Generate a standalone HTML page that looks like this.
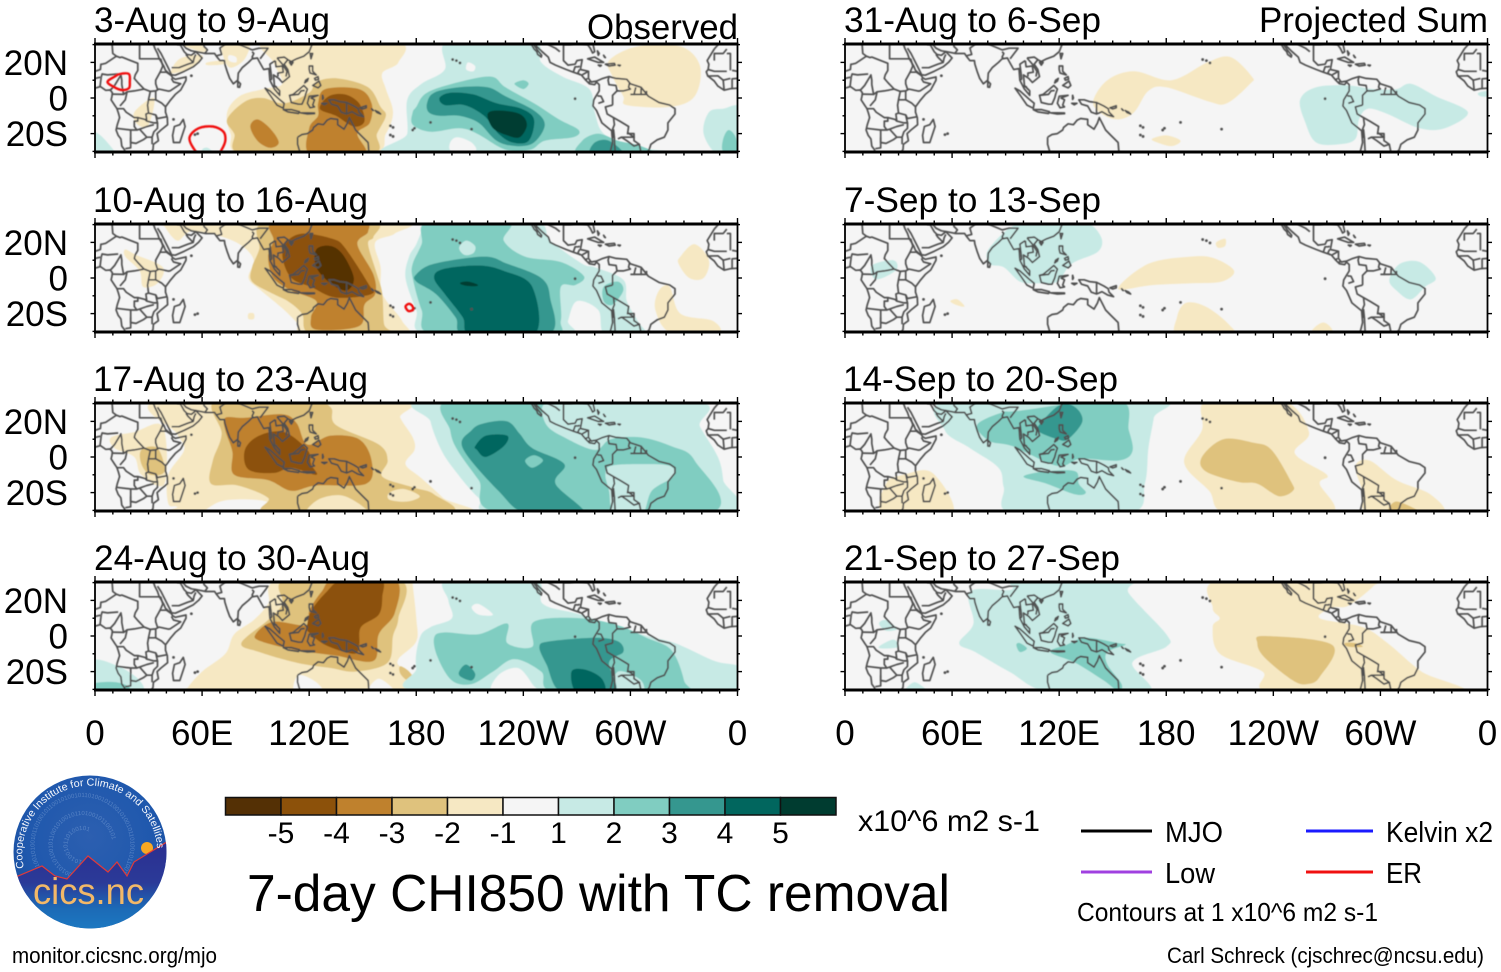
<!DOCTYPE html>
<html lang="en">
<head>
<meta charset="utf-8">
<title>7-day CHI850 with TC removal</title>
<style>
html,body{margin:0;padding:0;background:#fff;}
svg{display:block;}
text{font-family:"Liberation Sans",sans-serif;fill:#000;}
</style>
</head>
<body>
<svg id="chart" xmlns="http://www.w3.org/2000/svg" width="1501" height="972" viewBox="0 0 1501 972">
<defs>
<radialGradient id="logo-sky" cx="50%" cy="40%" r="60%">
<stop offset="0" stop-color="#2c5fb0"/><stop offset="0.7" stop-color="#1f58ad"/><stop offset="1" stop-color="#1a4f9e"/>
</radialGradient>
<linearGradient id="logo-ground" x1="0" y1="0" x2="0" y2="1">
<stop offset="0" stop-color="#2b2e90"/><stop offset="0.45" stop-color="#2b3a98"/><stop offset="0.72" stop-color="#1c6ab6"/><stop offset="1" stop-color="#1c7cc4"/>
</linearGradient>
<filter id="soften" x="0" y="0" width="100%" height="100%"><feGaussianBlur stdDeviation="0.4"/></filter>
<clipPath id="logo-clip"><circle cx="90" cy="852" r="76.5"/></clipPath>
<path id="logo-arc" d="M 24 868 A 67.5 67.5 0 1 1 157 860"/>
<path id="logo-ring-a" d="M 82 893 A 48 48 0 1 1 83 893"/>
<path id="logo-ring-b" d="M 82 875 A 30 30 0 1 1 83 875"/>
<path id="logo-ring-c" d="M 82 860 A 15 15 0 1 1 83 860"/>
</defs>

<g id="panel-0">
<text x="94" y="32" font-size="35" textLength="236" lengthAdjust="spacingAndGlyphs">3-Aug to 9-Aug</text>
<text x="587" y="39" font-size="35" textLength="151" lengthAdjust="spacingAndGlyphs">Observed</text>
</g>
<g id="panel-1">
<text x="93" y="212" font-size="35" textLength="275" lengthAdjust="spacingAndGlyphs">10-Aug to 16-Aug</text>
</g>
<g id="panel-2">
<text x="93" y="391" font-size="35" textLength="275" lengthAdjust="spacingAndGlyphs">17-Aug to 23-Aug</text>
</g>
<g id="panel-3">
<text x="94" y="570" font-size="35" textLength="276" lengthAdjust="spacingAndGlyphs">24-Aug to 30-Aug</text>
</g>
<g id="panel-4">
<text x="844" y="32" font-size="35" textLength="257" lengthAdjust="spacingAndGlyphs">31-Aug to 6-Sep</text>
<text x="1259" y="32" font-size="35" textLength="229" lengthAdjust="spacingAndGlyphs">Projected Sum</text>
</g>
<g id="panel-5">
<text x="844" y="212" font-size="35" textLength="257" lengthAdjust="spacingAndGlyphs">7-Sep to 13-Sep</text>
</g>
<g id="panel-6">
<text x="843" y="391" font-size="35" textLength="275" lengthAdjust="spacingAndGlyphs">14-Sep to 20-Sep</text>
</g>
<g id="panel-7">
<text x="844" y="570" font-size="35" textLength="276" lengthAdjust="spacingAndGlyphs">21-Sep to 27-Sep</text>
</g>

<g id="colorbar"></g>
<text x="858" y="831" font-size="30" textLength="182" lengthAdjust="spacingAndGlyphs">x10^6 m2 s-1</text>
<text x="247" y="911" font-size="52" textLength="703" lengthAdjust="spacingAndGlyphs">7-day CHI850 with TC removal</text>

<g>
<line x1="1081" y1="831" x2="1152" y2="831" stroke="#000" stroke-width="3"/>
<text x="1165" y="842" font-size="29" textLength="58" lengthAdjust="spacingAndGlyphs">MJO</text>
<line x1="1306" y1="831" x2="1373" y2="831" stroke="#1a1aff" stroke-width="3"/>
<text x="1386" y="842" font-size="29" textLength="107" lengthAdjust="spacingAndGlyphs">Kelvin x2</text>
<line x1="1081" y1="872" x2="1152" y2="872" stroke="#a040e0" stroke-width="3"/>
<text x="1165" y="883" font-size="29" textLength="50" lengthAdjust="spacingAndGlyphs">Low</text>
<line x1="1306" y1="872" x2="1373" y2="872" stroke="#f01010" stroke-width="3"/>
<text x="1386" y="883" font-size="29" textLength="36" lengthAdjust="spacingAndGlyphs">ER</text>
<text x="1077" y="921" font-size="26" textLength="301" lengthAdjust="spacingAndGlyphs">Contours at 1 x10^6 m2 s-1</text>
</g>
<text x="1167" y="963" font-size="22" textLength="317" lengthAdjust="spacingAndGlyphs">Carl Schreck (cjschrec@ncsu.edu)</text>
<text x="12" y="963" font-size="22" textLength="205" lengthAdjust="spacingAndGlyphs">monitor.cicsnc.org/mjo</text>

<g>
<circle cx="90" cy="852" r="76.5" fill="url(#logo-sky)"/>
<g clip-path="url(#logo-clip)">
<g font-size="6" style="font-family:'Liberation Mono',monospace">
<text style="fill:#7fa4d8" opacity="0.55"><textPath href="#logo-ring-a">1010010110100101100101001011010010110010100101101001011001010010110100101100101001</textPath></text>
<text style="fill:#7fa4d8" opacity="0.55"><textPath href="#logo-ring-b">10100101101001011001010010110100101100101</textPath></text>
<text style="fill:#7fa4d8" opacity="0.55"><textPath href="#logo-ring-c">1010010110100101</textPath></text>
</g>
<circle cx="147" cy="848" r="6" fill="#f7a823"/>
<path d="M 10 877 L 18 876 L 42 866 L 55 876 L 67 879 L 88 856 L 108 872 L 117 862 L 127 876 L 134 862 L 170 840 L 170 935 L 10 935 Z" fill="url(#logo-ground)"/>
<path d="M 10 877 L 18 876 L 42 866 L 55 876 L 67 879 L 88 856 L 108 872 L 117 862 L 127 876 L 134 862 L 170 840" fill="none" stroke="#e03a3a" stroke-width="1.2"/>
</g>
<text font-size="10.5" style="fill:#f4f6fb"><textPath href="#logo-arc" textLength="222" lengthAdjust="spacingAndGlyphs">Cooperative Institute for Climate and Satellites</textPath></text>
<text x="33" y="904" font-size="37" textLength="111" lengthAdjust="spacingAndGlyphs" style="fill:#f2b868">cics.nc</text>
</g>

<script>
/* Colour bins for the eleven shaded intervals, keyed from -5 to 5 */
const levelBins = [-5,-4,-3,-2,-1,0,1,2,3,4,5];
const levelColors = ['#543005','#8c510a','#bf812d','#dfc27d','#f6e8c3','#f5f5f5','#c7eae5','#80cdc1','#35978f','#01665e','#003c30'];
const colorbarLabels = ['-5','-4','-3','-2','-1','1','2','3','4','5'];
const lonTicks = [0,60,120,180,240,300,360];
const lonTickLabels = ['0','60E','120E','180','120W','60W','0'];
const latTicks = [20,0,-20];
const latTickLabels = ['20N','0','20S'];

/* Shaded regions: [bin, [lon,lat, lon,lat, ...]] in degrees */
const week3Aug = [
[-1,[97,32,100,20,105,8,94,5,81,1,74,-8,76,-20,84,-32,153,-32,163,-20,167,-8,163,5,161,14,170,20,168,32]],
[-1,[72,32,86,32,84,22,76,17,72,23]],
[0,[75,24,79,23,79,20,75,21]],
[-1,[43,14,47.5,22,60,24,56,18]],
[-1,[63,20,72,21,72,19,63,18.5]],
[-1,[49,30,60,26,62,28,55,32]],
[-1,[22,-8,33,0,30,-15,24,-15]],
[-1,[288,21,304,29,328,29,339,18,336,1,322,-5,298,-4,296,1,290,12]],
[-2,[74,-12,84,-2,94,0,106,-3,120,3,124,9,136,11,153,6,160,-5,163,-10,158,-20,153,-32,84,-32,78,-20]],
[-3,[87,-16,91,-12,98,-17,103,-25,98,-28,91,-24]],
[-3,[125,-3,129,5,148,5,155,-3,154,-14,147,-20,151,-32,121,-32,120,-17,125,-10]],
[-4,[126,-6,131,1,140,2,148,-3,151,-13,145,-16,135,-10]],
[1,[198,32,245,32,250,20,262,12,277,5,280,-8,285,-20,300,-27,322,-32,170,-32,175,-20,175,-1,183,8,196,16]],
[1,[344,-8,352,-6,362,-6,362,-32,349,-32,341,-20]],
[1,[-2,-20,3,-21,11,-30,12,-33,-2,-33]],
[1,[60,-29,63,-28,66,-31,60,-33]],
[0,[209,20,213,18,212,15,208,16]],
[0,[199,-25,203,-22,211,-25,213,-30,200,-30]],
[2,[180,-5,186,3,204,9,222,12,230,6,246,-3,260,-12,271,-18,268,-22,252,-24,244,-29,230,-29,214,-20,204,-17,188,-19,178,-15,178,-8]],
[2,[235,8,240,10,243,8,240,5]],
[2,[272,-32,273,-24,282,-20,293,-24,306,-27,312,-32]],
[2,[352,-23,355,-18,359,-22,360,-30,352,-30]],
[3,[186,-3,190,3,204,6,220,6,230,1,246,-7,252,-15,246,-25,236,-27,225,-24,215,-14,204,-10,193,-10,187,-8]],
[3,[278,-32,280,-25,288,-24,296,-32]],
[4,[193,0,199,3,212,2,225,-3,239,-6,246,-12,243,-24,234,-25,226,-20,218,-10,207,-4,196,-4]],
[5,[220,-9,226,-7,238,-9,242,-15,238,-22,231,-21,223,-17]]
];
const week10Aug = [
[-1,[39,32,39,29,46,21,53,26,65,25,81,19,89,10,86,0,93,-7,105,-17,113,-25,119,-32,172,-32,172,-24,161,-9,160,6,157,20,168,25,168,32]],
[-1,[17,16,23,13,38,6,35,-3,27,-5,25,4,17,12]],
[-1,[86,-20,89,-20,89,-23,86,-23]],
[-1,[328,12,336,19,344,10,341,0,333,0,327,8]],
[-1,[316,-7,322,-5,328,-20,346,-24,349,-31,323,-31,314,-18]],
[-2,[96,32,92,16,88,6,88,-2,100,-9,108,-13,116,-20,122,-32,165,-32,162,-26,161,-9,158,2,153,19,156,23,155,32]],
[-3,[101,32,100,21,97,12,100,0,110,-7,124,-13,121,-22,124,-29,148,-27,151,-15,157,-9,156,2,147,19,153,26,148,32]],
[-4,[108,21,117,25,133,22,140,17,153,-3,155,-9,135,-11,121,-5,110,0,105,12]],
[-5,[124,16,132,18,139,13,145,0,141,-7,132,-3,124,6]],
[1,[184,32,245,32,255,21,273,8,280,6,296,-1,298,-13,304,-24,308,-32,286,-32,282,-18,270,-13,265,-24,263,-32,187,-32,180,-18,174,0,176,12,180,19,184,29]],
[2,[231,32,229,21,241,12,261,9,274,1,269,-4,261,-5,261,-24,255,-32,190,-32,183,-18,178,0,178,8,183,19,187,32]],
[2,[285,-5,293,-2,296,-7,290,-15,285,-13]],
[1,[204,17,208,21,213,18,212,14,207,13]],
[3,[180,2,190,8,218,12,231,8,250,0,255,-11,254,-32,208,-32,202,-22,191,-9,180,-2]],
[4,[190,0,195,5,215,7,229,4,245,-5,246,-32,211,-32,206,-22,196,-9]],
[5,[205,-2.5,209,-2,214,-3.5,214,-4.5,209,-4.5,205,-3.5]]
];
const week17Aug = [
[-1,[37,32,46,13,50,4,41,-10,41,-26,46,-28,54,-32,203,-32,195,-23,183,-12,174,-4,179,4,178,11,171,22,168,32]],
[-1,[9,11,22,14,38,17,39,-15,26,-10,22,0,11,5]],
[0,[66,-27,76,-24,96,-25,98,-32,64,-32]],
[-2,[68,32,71,13,66,-2,65,-15,80,-16,97,-23,100,-32,196,-32,190,-21,178,-17,161,-11,164,-2,159,7,135,18,132,28,119,32]],
[-1,[120,-33,125,-24,140,-22,153,-33]],
[-1,[165,-20,173,-18,182,-22,175,-25,165,-24]],
[-2,[26,4,35,5,39,-8,31,-10,26,-4]],
[-3,[73,22,84,22,105,24,113,19,119,7,132,12,148,10,155,-2,152,-15,124,-16,110,-19,97,-13,78,-10,77,3,73,15]],
[-4,[84,4,92,12,106,14,119,4,121,-4,124,-10,110,-6,100,-9,86,-7]],
[1,[188,32,188,20,194,4,202,-8,215,-23,229,-32,353,-32,352,-13,349,0,339,17,332,32]],
[2,[198,32,199,15,203,4,215,-13,229,-32,344,-32,336,-2,323,6,306,11,289,10,280,4,263,11,253,18,251,29,262,32]],
[1,[289,-5,306,-4,322,-5,324,-11,312,-19,306,-33,291,-33,288,-19,286,-10]],
[3,[206,5,211,15,218,19,231,20,238,13,245,5,263,-4,258,-15,274,-32,242,-32,226,-19]],
[2,[241,-2,246,1,251,-2,245,-6]],
[4,[213,6,219,12,231,12,229,6,219,0,214,4]]
];
const week24Aug = [
[-1,[105,32,97,18,89,9,78,1,73,-10,60,-20,52,-29,52,-32,188,-32,186,-27,172,-18,170,-13,180,-3,180,10,178,29,178,32]],
[0,[112,-32,114,-22,124,-26,127,-32]],
[0,[153,-32,159,-24,168,-32]],
[-2,[82,-4,97,9,105,18,108,32,170,32,170,10,167,0,164,-15,146,-20,132,-18,113,-15,92,-9]],
[-2,[171,-17,176,-20,179,-25,175,-25,171,-21]],
[-3,[90,1,100,8,119,6,120,14,127,25,135,32,168,32,168,13,159,1,156,-14,135,-11,113,-8,93,-3]],
[-4,[119,7,121,14,129,24,139,32,160,32,161,22,159,12,149,5,148,-5,145,-10,129,-5,119,3]],
[1,[198,32,246,32,251,18,272,12,306,1,325,-4,347,-14,362,-18,362,-32,188,-32,180,-18,182,-1,188,5,200,10,198,20]],
[0,[211,16,215,18,223,12,215,12]],
[0,[223,-32,226,-22,237,-18,245,-27,247,-32]],
[1,[-2,-14,13,-17,25,-25,25,-32,-2,-32]],
[2,[-2,-27,12,-26,19,-30,-2,-33]],
[2,[190,-1,196,2,215,1,231,7,231,-4,245,-6,246,8,272,10,293,6,309,-1,323,-8,330,-25,328,-32,259,-32,250,-20,235,-13,223,-20,211,-27,200,-25,192,-12]],
[1,[293,-20,306,-25,306,-33,290,-33]],
[3,[204,-20,208,-16,213,-21,211,-25,205,-23]],
[3,[249,-6,255,-3,280,-1,293,-3,296,-9,288,-15,291,-32,262,-32,253,-16]],
[4,[267,-20,275,-19,284,-24,285,-32,270,-32]]
];
const week31Aug = [
[-1,[139,-2,147,10,162,15,183,10,203,20,216,23,228,12,227,8,214,-3,204,-2,180,6,170,4,162,-8,153,-12,144,-9]],
[-1,[172,-23,180,-21,188,-24,183,-27,175,-25]],
[1,[255,-1,264,6,282,7,296,5,309,5,317,8,331,1,349,-8,336,-17,322,-17,304,-9,293,-6,288,-12,286,-23,277,-26,264,-25,258,-14]],
[1,[355,3,362,4,362,1,356,1]]
];
const week7Sep = [
[1,[81,17,100,32,132,32,143,24,142,15,127,8,119,-2,108,-3,98,-2,89,6,81,8]],
[1,[15,7,27,10,29,5,21,0,16,0]],
[1,[305,-1,311,8,322,9,331,0,325,-5,317,-12,309,-7]],
[-1,[153,-6,170,8,194,12,207,11,218,4,211,-2,194,-3,172,-4]],
[-1,[208,20,213,22,213,18,209,17]],
[-1,[186,-22,191,-14,202,-16,215,-26,217,-33,187,-33]],
[-1,[262,-29,268,-25,273,-29,271,-33,262,-33]],
[-1,[59,-13,63,-12,67,-16,62,-15]]
];
const week14Sep = [
[1,[60,32,56,15,70,5,86,-6,89,-17,94,-32,159,-32,168,-15,170,5,173,22,174,32]],
[2,[74,18,88,25,98,26,153,32,159,15,161,3,153,-2,132,-1,119,-5,94,6,81,9]],
[2,[100,-11,113,-8,129,-8,131,-15,135,-20,129,-21,113,-15]],
[3,[108,17,120,29,129,28,133,20,125,10,119,10,109,14]],
[-1,[23,-15,33,-10,49,-9,60,-32,22,-32]],
[-1,[203,32,245,32,260,14,252,2,270,-10,266,-15,272,-32,215,-32,204,-19,190,-3,200,15]],
[-2,[200,0,212,10,229,8,239,4,250,-14,251,-19,243,-22,231,-15,220,-14,202,-8]],
[-1,[286,-5,294,-2,309,-13,328,-21,334,-32,294,-32,290,-19]],
[-2,[305,-32,309,-25,323,-32]]
];
const week21Sep = [
[1,[70,25,93,26,97,32,159,32,159,24,180,1,180,-6,161,-15,170,-32,116,-32,92,-20,73,-9,64,-4,72,7]],
[1,[19,7,23,9,29,4,23,3]],
[1,[19,-6,27,-2,30,-6,22,-7]],
[1,[33,-33,39,-26,47,-33]],
[2,[96,-5,98,-4,102,-7,98,-9]],
[2,[115,-9,124,-5,135,-1,153,-4,157,-5,147,-9,147,-16,155,-27,153,-31,145,-25,129,-15]],
[-1,[211,32,206,16,210,10,206,5,210,-10,234,-20,241,-32,344,-32,323,-20,304,-4,290,5,266,10,273,16,282,17,296,28,296,32]],
[-2,[231,-4,235,0,273,-5,266,-23,259,-27,251,-25,235,-12]],
[-2,[280,-4,286,-4,290,-6,282,-6]]
];
const weeklyContours = [week3Aug,week10Aug,week17Aug,week24Aug,week31Aug,week7Sep,week14Sep,week21Sep];

/* Red TC-removal contours: one list per observed week */
const trackedContours = [
[[7,9,11,12,14,13.5,19,13.5,19.5,9,19,5.5,15,4.5,11,6],[53,-22,58,-17,66,-16,72,-19,73,-24,71,-29,68,-33,60,-33,55,-28]],
[[174,-16,176,-14.5,178,-16,178,-18,175.5,-18.5]],
[],[],[],[],[],[]
];

/* Coastlines, open polylines in lon,lat */
const coastOpen = [
[0,5.5,3,6.4,6,4.3,8.5,4.5,9.7,3,9.5,1,9,-1,11,-4,12.3,-6,13.3,-9,13.8,-11,12.5,-15,11.8,-18,13,-21,14.5,-23,15,-27,16.5,-29,17,-31],
[32.5,31,33.5,28,35,25,36,22,37.3,20,38.5,18,39.5,15.5,43,12.5,43.3,11.5,45,10.5,51,11.8,51,10,48,4.5,45,2,42,-1.5,39.5,-5,39.5,-8,40.5,-11,40.7,-15,37,-18,34.8,-20,35.5,-24,32.7,-26,32.5,-29,31,-31],
[35,28,37,25,39,21,41,17,43,13,45,12.8,50,15,55,17.5,58,20,60,22.5,58.5,24,56.5,26,54,24,51.5,24.5,50,26,48,29.5,48,31],
[48.5,31,51,28,54,26.5,57,26,62,25,67,25,68,23.5,70,21,72.5,21,72.8,19,74,15,75.5,11,77.5,8,80,10,80.3,14,82.5,17,86,20,88,22,91,22.5,92,20.5,94.5,16,97.5,16.5,98,10,100.5,5,103.5,1.5,103.5,4,100.5,7,100,13,103,11,105,8.7,109,12,108,16,106,19,108,21.5,110,20.5,113,22,117,23.5,120,26,122,31],
[113.5,-22,116,-20.5,119,-20,122,-18,122.5,-16.5,125,-14.5,128,-15,130,-12.5,132,-11.5,136,-12,136,-15,139.5,-17.5,141.5,-14,142.5,-11,144,-14,146,-18,149,-21,153,-25,153.5,-31],
[113.5,-22,113.5,-26,115,-31],
[247,31.5,247.5,29,250.5,26,254,23,255,20,258,18.5,264,16,268,14.5,272.5,13,275,10,277,8,280,7.5,281,9,282.5,7.5,282.5,4,281,1.5,279.5,-1,279,-4.5,281,-7,284,-14,289.5,-18.5,290,-25,288.5,-31],
[244,31,245.5,28.5,246,27.5,247.5,26,248,24.5,250,23,250.3,24,249,25.5,247.5,27.5,246.5,29,245.5,31],
[262.5,30,262.5,25,262.5,21,265,18.5,269,19,270,21,273,21.5,272,16,276.5,15,276.5,11,278,9,281,9.5,284.5,11,288,12,292,11,298,10.5,300,8,306,6,310,1,316,-2.5,322,-4,325,-6,325,-9,321,-14,321,-18,319,-22,315,-23.5,311.5,-26,310.5,-29,309,-31],
[262.5,30,266,30,270,30.5,276,30,277.5,28,278.8,25.3,280,26,279,30.5],
[350,31,347,27.5,343,21,344,19,343.5,16,342.5,14.7,343.3,12.5,347,9.5,349,6.7,352.5,4.4,356,5.2,360,5.5]
];
const coastClosed = [
[49.5,-12,50.5,-16,47.5,-25,44,-25,43.5,-21,44.5,-16,47.5,-15],
[80,9.5,81.5,8,81,6,80,6.2],
[95.3,5.5,98,4,103,-0.5,106,-3,105.5,-5.8,102,-4,98.5,1],
[105.5,-6.5,110,-6.5,114.5,-7.7,114,-8.7,108,-7.8],
[115,-8.3,119,-8.3,123,-8.4,123,-8.8,119,-9],
[109,1.5,111,2,114,4.5,117,7,119,5,118,2,117.5,0,116,-3.5,114,-3.5,110,-2.5],
[120,1,125,1.5,121,0,123,-1,122,-4,123,-5,120.5,-5.5,119,-3],
[120,18,122,18,122,15,124,13,120.5,14,120,16],
[122,7,125.5,9.5,126.5,7,125,5.7],
[123,11,125,12,125.3,10.5,123.5,10],
[118,10,119.5,11,119,9.5,117.5,8.5],
[127.5,1.5,128,0,127.5,-0.8],
[127,-3,130,-3,128.5,-3.8],
[131,-1,134,-1,137,-2,141,-2.5,145,-4.5,147.5,-6,148,-8,150.5,-10.5,147,-9.5,144,-7.7,141,-9,138,-8,136,-4.5,132.5,-3.5],
[148.5,-5.5,152,-4.3,152,-5.5,150,-6.2],
[155,-6,156,-7,155.5,-6.8],
[157,-7,159,-8,160,-9,158,-8.2],
[120.5,25,122,25,121,22],
[109,20,111,20,110,18.5],
[276,22,280,23,285,20,282,20,276,22],
[286,19,291,19.5,291.5,18.5,288,18],
[282,18.5,283.7,18.3,283,17.8],
[293,18.5,294.4,18.4,294,18],
[281.5,26.5,282.5,25,282,24],
[285,24,286,22.7,285.5,23]
];
const coastBorders = [
[25,31,25,22,36.8,22],
[9.5,31,10,25,12,23.5,14,22.7,15,23,24,19.5,24,15.5,22.5,13,22,11,24,8.7,27.5,5,31,3.7,34,4,35.8,5,41,3.9,42,4,48,8,44,9,42.8,11],
[12,23.5,6,19.5,4,19,3.3,19,3,16,0,15],
[3,11.7,0,11],[3.5,11.7,4,13.5,7,13,13,13.5],[2.8,6.4,3.5,11.7],
[8.7,4.5,11,7,14,12,14.5,13,15,10,15,7.5,16,2,18,3.5,22,4,27.5,5],
[14,-4.5,17,-1,18,3.5],[9.7,2.2,16,2],
[12,-6,16,-6,17.5,-8,22,-11,24,-11,24,-13,22,-13,22,-16,23.5,-18,20,-18,12,-17],
[24,-11,28,-12,29,-13,28.5,-9,30,-8.5,29.5,-4,30,-1,31,3.7],
[30,-1,34,-1,37.5,-3,39.3,-4.7],[34,-1,34,4],
[30,-8.5,34,-9.5,35,-11.5,40.5,-10.5],[34,-9.5,35,-14,33,-14,29,-13],
[35,-14,35,-17,33,-19,32,-22,32,-26],[25,-17.5,29,-22,32,-22],[23.5,-18,25,-17.5,29,-16,33,-15],
[20,-18,20,-28,17,-28.5],[20,-22,20,-25,23,-25.5,27,-23.5,29,-22],
[36.8,22,38,18,36.5,14.5,34,10,34,8,35,5],[36.5,14.5,40,14.5,43,12.5],
[43,17,47,17,52,19,55,20,52,23,51,24.5],[55,20,55.5,22.5,56.5,24.5],[46,30,48,30],
[61,31,61,29,63,27,61.5,25],[68,23.7,71,24.5,70,28,74,31],
[78,31,81,30,88,27,92,28,97,28,94,24,92.5,22],[88,26,89,25,88,23,89,21.8],
[101,21,98,19,98.5,15,99,11,98.6,10],[102,22.5,105,19,107.5,15,107,12],
[101,21,101.5,17.5,105,18,105.5,14.5,102.5,14,102.5,12],[102,22.5,106,23,108,21.6],
[100,6.5,102,6.2],[109.5,1.5,114,2,115.5,4,117.5,4.2],[141,-2.5,141,-9],
[288,12,287.5,10,288,7.5,292,7,292.5,4,290,1.5,290,-4],
[282,-3,285,-2,283.5,1,281.5,1.2],
[290,-4,286,-5,287,-9,290.5,-11,291,-15,290,-17.5,290.5,-22.5],
[290.5,-11,294,-13,299,-16,298.5,-19.5,302,-22,295,-22,293,-23],[290.5,-17.5,291,-22.5,291.5,-31],
[298,-20,302,-20,302,-24,305,-26,302,-27,298,-24,295,-22],[305,-26,306,-31],
[299.5,8.5,299,6,300,5,296,4,292.5,4],[303,6,302,2,300,2],[306,5.5,306,2,302,2],[306,2,309,2,309,4],
[268,14.5,269,17.5,271,17.5,271.5,18],[271.5,16,270.5,14,272,13],[276.5,15,273,13],[276,11,274.5,10],[277,9.5,277,8],
[250,31,253,31.5,254,30,258,28,260.5,26],
[347,21,347,25,352,25,354,27.5],[354,25,356,25,356,15.5],[354,15,347,15,343.5,16],
[356,11,352,10,349,12.5,343,12.3],[360,11,357,10.8,357,5],[352,10,352.5,4.5],[360,15,357,15.5]
];
const smallIslands = [
[200.4,21.6],[202.5,21],[204.5,19.7],
[269,-0.4],[44,-12],[56,-20.6],[57.5,-20],[54,12.5],
[165.5,-15.6],[167,-16.5],[167,-21.6],[165.5,-20.8],[179,-17],[178,-18],[188,-13.7],[211,-17.5]
];

const svgNS = 'http://www.w3.org/2000/svg';
const panelLefts = [95,95,95,95,845,845,845,845];
const panelCenters = [98,278,457,636,98,278,457,636];
const panelWidth = 642.5;
const panelHalfHeight = 54;

function xAxis(lon, left){ return left + lon/360*panelWidth; }
function yAxis(lat, center){ return center - lat*1.78; }
function make(tag, attrs){
  const el = document.createElementNS(svgNS, tag);
  for (const k in attrs) el.setAttribute(k, attrs[k]);
  return el;
}
function toPoints(flat, left, center){
  const pts = [];
  for (let i = 0; i < flat.length; i += 2) pts.push([xAxis(flat[i], left), yAxis(flat[i+1], center)]);
  return pts;
}
function smoothClosed(pts){
  const n = pts.length;
  let d = 'M' + pts[0][0].toFixed(1) + ' ' + pts[0][1].toFixed(1);
  for (let i = 0; i < n; i++){
    const p0 = pts[(i-1+n)%n], p1 = pts[i], p2 = pts[(i+1)%n], p3 = pts[(i+2)%n];
    const c1x = p1[0]+(p2[0]-p0[0])/6, c1y = p1[1]+(p2[1]-p0[1])/6;
    const c2x = p2[0]-(p3[0]-p1[0])/6, c2y = p2[1]-(p3[1]-p1[1])/6;
    d += 'C'+c1x.toFixed(1)+' '+c1y.toFixed(1)+' '+c2x.toFixed(1)+' '+c2y.toFixed(1)+' '+p2[0].toFixed(1)+' '+p2[1].toFixed(1);
  }
  return d + 'Z';
}
function straight(pts, closed){
  return 'M' + pts.map(p => p[0].toFixed(1)+' '+p[1].toFixed(1)).join('L') + (closed ? 'Z' : '');
}

const defsEl = document.querySelector('#chart defs');
weeklyContours.forEach(function(contours, idx){
  const g = document.getElementById('panel-'+idx);
  const left = panelLefts[idx], center = panelCenters[idx];
  const top = center - panelHalfHeight, bottom = center + panelHalfHeight;
  const clip = make('clipPath', {id:'plot-clip-'+idx});
  clip.appendChild(make('rect', {x:left, y:top, width:panelWidth, height:panelHalfHeight*2}));
  defsEl.appendChild(clip);

  const bg = make('rect', {x:left, y:top, width:panelWidth, height:panelHalfHeight*2, fill:'#f5f5f5'});
  
  
  g.appendChild(bg);

  const plot = make('g', {'clip-path':'url(#plot-clip-'+idx+')'});
  
  
  g.appendChild(plot);

  const soft = make('g', {filter:'url(#soften)'});
  
  
  plot.appendChild(soft);

  contours.forEach(function(c){
    const color = levelColors[levelBins.indexOf(c[0])];
    const p = make('path', {d:smoothClosed(toPoints(c[1], left, center)), fill:color});
    
    
    soft.appendChild(p);
  });

  const landStyle = {fill:'none', stroke:'#505050', 'stroke-width':1.7, 'stroke-linejoin':'round'};
  coastOpen.concat(coastBorders).forEach(function(line){
    const p = make('path', Object.assign({d:straight(toPoints(line, left, center), false)}, landStyle));
    
    
    soft.appendChild(p);
  });
  coastClosed.forEach(function(line){
    const p = make('path', Object.assign({d:straight(toPoints(line, left, center), true)}, landStyle));
    
    
    soft.appendChild(p);
  });
  smallIslands.forEach(function(isle){
    const dot = make('circle', {cx:xAxis(isle[0], left), cy:yAxis(isle[1], center), r:1.4, fill:'#505050'});
    
    
    soft.appendChild(dot);
  });
  trackedContours[idx].forEach(function(line){
    const p = make('path', {d:smoothClosed(toPoints(line, left, center)), fill:'none', stroke:'#f01010', 'stroke-width':2.4});
    
    
    soft.appendChild(p);
  });

  const side = make('rect', {x:left, y:top, width:panelWidth, height:panelHalfHeight*2, fill:'none', stroke:'#000', 'stroke-width':1.8});
  
  
  g.appendChild(side);
  [top, bottom].forEach(function(y){
    const edge = make('line', {x1:left-1, x2:left+panelWidth+1, y1:y, y2:y, stroke:'#000', 'stroke-width':3});
    
    
    g.appendChild(edge);
  });

  for (let lon = 0; lon <= 360; lon += 10){
    const len = lon % 60 === 0 ? 6 : 3.5;
    const x = xAxis(lon, left);
    [[top-len, top],[bottom, bottom+len]].forEach(function(s){
      const t = make('line', {x1:x, x2:x, y1:s[0], y2:s[1], stroke:'#000', 'stroke-width':1.4});
      
      
      g.appendChild(t);
    });
  }
  for (let lat = -30; lat <= 30; lat += 10){
    const len = lat % 20 === 0 ? 4.5 : 2.5;
    const y = yAxis(lat, center);
    [[left-len, left],[left+panelWidth, left+panelWidth+len]].forEach(function(s){
      const t = make('line', {x1:s[0], x2:s[1], y1:y, y2:y, stroke:'#000', 'stroke-width':1.4});
      
      
      g.appendChild(t);
    });
  }

  if (idx < 4){
    latTicks.forEach(function(lat, i){
      const t = make('text', {x:68, y:yAxis(lat, center)+12.5, 'font-size':35, 'text-anchor':'end'});
      t.textContent = latTickLabels[i];
      
      
      g.appendChild(t);
    });
  }
  if (idx === 3 || idx === 7){
    lonTicks.forEach(function(lon, i){
      const t = make('text', {x:xAxis(lon, left), y:745, 'font-size':35, 'text-anchor':'middle'});
      t.textContent = lonTickLabels[i];
      
      
      g.appendChild(t);
    });
  }
});

const cbar = document.getElementById('colorbar');
const cbarLeft = 225.5, cbarRight = 836, cbarTop = 797.5, cbarHeight = 17.5;
const cbarStep = (cbarRight - cbarLeft) / levelColors.length;
levelColors.forEach(function(color, i){
  const box = make('rect', {x:cbarLeft+i*cbarStep, y:cbarTop, width:cbarStep, height:cbarHeight, fill:color, stroke:'#111', 'stroke-width':1.5});
  
  
  cbar.appendChild(box);
});
colorbarLabels.forEach(function(label, i){
  const t = make('text', {x:cbarLeft+(i+1)*cbarStep, y:843, 'font-size':30, 'text-anchor':'middle'});
  t.textContent = label;
  
  
  cbar.appendChild(t);
});
</script>
</svg>
</body>
</html>
